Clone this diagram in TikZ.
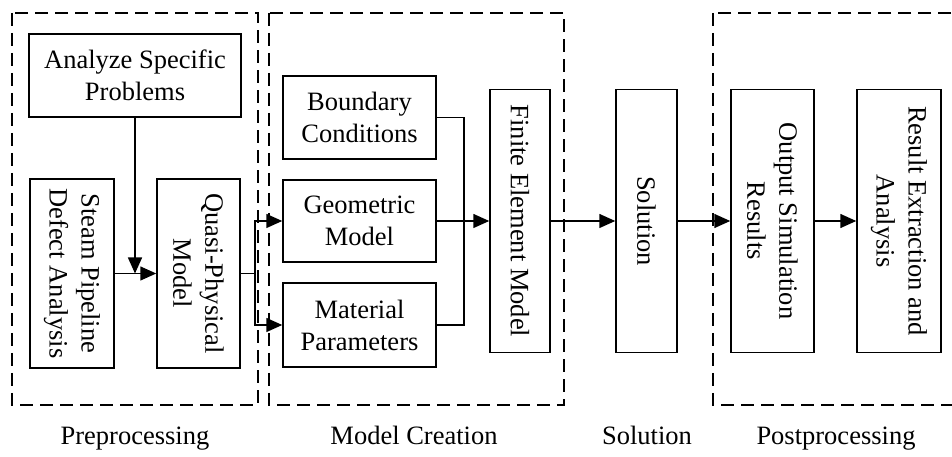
\documentclass[tikz,border=0pt]{standalone}
\usepackage{fontspec}
\setmainfont{Liberation Serif}
\usetikzlibrary{arrows.meta}
\tikzset{
  box/.style={draw, line width=1.5pt, align=center, inner sep=0pt,
    font=\fontsize{26.5}{32}\selectfont},
  vbox/.style={box, rotate=-90},
  arr/.style={line width=1.5pt, -{Triangle[length=16pt,width=14pt]}},
  ln/.style={line width=1.5pt},
  dbox/.style={line width=1.5pt, dash pattern=on 13pt off 7pt},
  lab/.style={font=\fontsize{26.5}{32}\selectfont, anchor=base, inner sep=0pt}
}
\begin{document}
\begin{tikzpicture}[x=1pt,y=1pt]
\useasboundingbox (0,0) rectangle (952,457);
\fill[white] (0,0) rectangle (952,457);
% group frames
\begin{scope}
\clip (0,0) rectangle (952,457);
\draw[dbox] (12,444) rectangle (258,52);
\draw[dbox] (269,444) rectangle (564,52);
\draw[dbox] (713,444) rectangle (980,52);
\end{scope}
% nodes
\node[box, minimum width=212pt, minimum height=83pt] (ana) at (135,381.5) {Analyze Specific\\Problems};
\node[vbox, minimum width=189pt, minimum height=84pt] (st) at (72,183.5) {Steam Pipeline\\Defect Analysis};
\node[vbox, minimum width=189pt, minimum height=83pt] (q) at (198.5,183.5) {Quasi-Physical\\Model};
\node[box, minimum width=153pt, minimum height=83pt] (bc) at (359.5,339.5) {Boundary\\Conditions};
\node[box, minimum width=153pt, minimum height=82pt] (geo) at (359.5,236) {Geometric\\Model};
\node[box, minimum width=153pt, minimum height=84pt] (mat) at (359.5,132) {Material\\Parameters};
\node[vbox, minimum width=263pt, minimum height=60pt] (fem) at (520,236) {Finite Element Model};
\node[vbox, minimum width=263pt, minimum height=61pt] (sol) at (646.5,236) {Solution};
\node[vbox, minimum width=263pt, minimum height=83pt] (out) at (772.5,236) {Output Simulation\\Results};
\node[vbox, minimum width=263pt, minimum height=84pt] (res) at (899,236) {Result Extraction and\\Analysis};
% labels
\node[lab] (l1) at (135,12) {Preprocessing};
\node[lab] (l2) at (414,12) {Model Creation};
\node[lab] (l3) at (647,12) {Solution};
\node[lab] (l4) at (836,12) {Postprocessing};
% connectors
\draw[arr] (st.north) -- (q.south);
\draw[arr] (ana.south) -- (ana.south |- st.center);
\draw[ln] (q.north) -- ++(14,0) coordinate (br);
\draw[arr] (br) |- (geo.west);
\draw[arr] (br) |- (mat.west);
\draw[ln] (bc.east) -- ++(27,0) coordinate (jn) |- (mat.east);
\draw[arr] (geo.east) -- (fem.south);
\draw[arr] (fem.north) -- (sol.south);
\draw[arr] (sol.north) -- (out.south);
\draw[arr] (out.north) -- (res.south);
\end{tikzpicture}
\end{document}
